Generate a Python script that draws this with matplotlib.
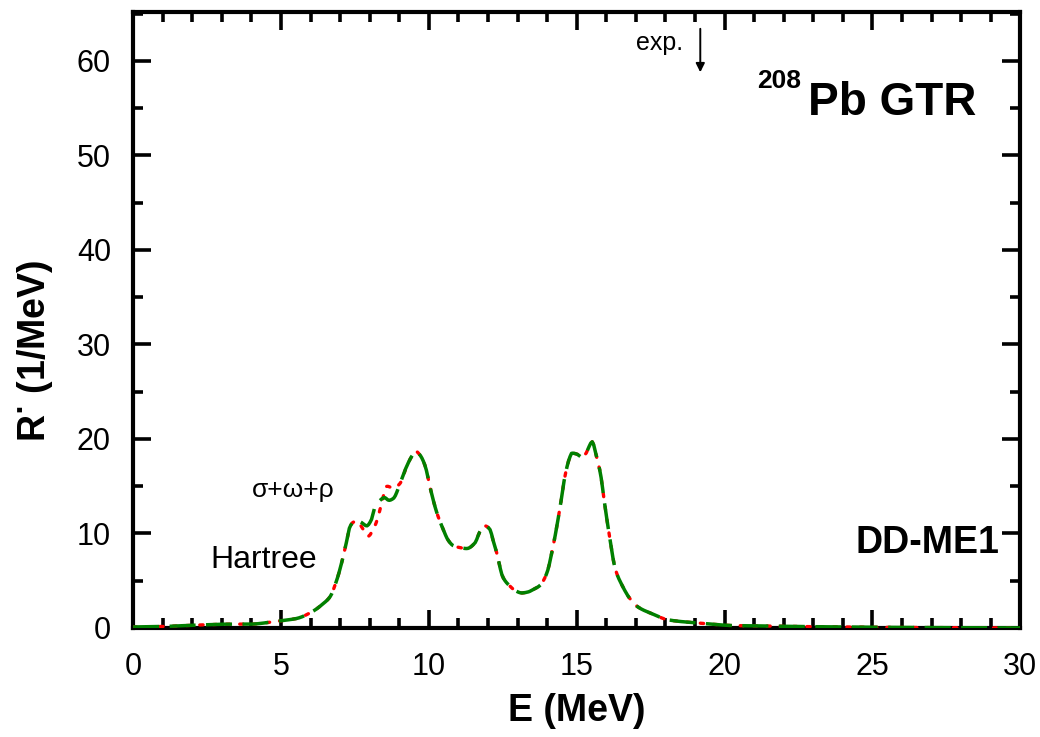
import numpy as np
import matplotlib
matplotlib.use("Agg")
import matplotlib.pyplot as plt
from matplotlib.ticker import MultipleLocator

plt.rcParams['font.family'] = ['Liberation Sans', 'DejaVu Sans']

# Hartree, sigma+omega+rho (green dashed)
e_green = [0.0, 1.0, 2.15, 3.28, 3.96, 4.63, 5.1, 5.53, 6.1, 6.4, 6.66, 6.89, 7.1,
           7.23, 7.33, 7.45, 7.56, 7.7, 7.9, 8.05, 8.18, 8.35, 8.5, 8.65, 8.8, 9.03,
           9.25, 9.45, 9.55, 9.7, 9.88, 10.04, 10.27, 10.49, 10.65, 10.83, 11.05, 11.28,
           11.56, 11.73, 11.9, 12.07, 12.17, 12.3, 12.5, 12.75, 12.95, 13.14, 13.35,
           13.55, 13.76, 13.99, 14.2, 14.44, 14.6, 14.75, 14.84, 15.0, 15.17, 15.3,
           15.42, 15.52, 15.68, 15.8, 15.96, 16.13, 16.3, 16.57, 16.8, 17.08, 17.55,
           18.1, 19.2, 20.3, 21.5, 22.5, 24.0, 26.0, 30.0]
r_green = [0.1, 0.15, 0.3, 0.4, 0.4, 0.6, 0.8, 1.0, 1.8, 2.5, 3.3, 5.1, 7.5,
           9.3, 10.7, 11.2, 11.4, 11.2, 10.8, 11.4, 12.8, 13.5, 13.8, 13.5, 13.7, 15.3,
           17.1, 18.3, 18.7, 18.3, 17.1, 14.9, 12.2, 10.4, 9.3, 8.7, 8.5, 8.4,
           9.0, 10.2, 10.8, 10.4, 9.3, 7.9, 5.4, 4.4, 3.9, 3.7, 3.8,
           4.1, 4.5, 5.8, 8.6, 12.8, 16.0, 17.9, 18.5, 18.4, 18.1, 18.4,
           19.2, 19.7, 18.0, 16.4, 12.8, 9.3, 6.3, 4.3, 3.1, 2.2, 1.5,
           0.85, 0.5, 0.25, 0.2, 0.15, 0.1, 0.05, 0.0]

# Hartree, sigma+omega+rho (red dotted)
e_red = [0.0, 1.0, 2.15, 3.28, 3.96, 4.63, 5.1, 5.53, 6.1, 6.4, 6.66, 6.89, 7.1,
         7.23, 7.33, 7.45, 7.56, 7.75, 7.95, 8.1, 8.25, 8.42, 8.58, 8.8, 9.03,
         9.25, 9.45, 9.55, 9.7, 9.88, 10.04, 10.27, 10.49, 10.65, 10.83, 11.05, 11.28,
         11.56, 11.73, 11.9, 12.07, 12.17, 12.3, 12.5, 12.75, 12.95, 13.14, 13.35,
         13.55, 13.76, 13.99, 14.2, 14.44, 14.6, 14.75, 14.84, 15.0, 15.17, 15.3,
         15.42, 15.52, 15.68, 15.8, 15.96, 16.13, 16.3, 16.57, 16.8, 17.08, 17.55,
         18.1, 19.2, 20.3, 21.5, 22.5, 24.0, 26.0, 30.0]
r_red = [0.1, 0.15, 0.3, 0.4, 0.4, 0.6, 0.8, 1.0, 1.8, 2.5, 3.3, 5.1, 7.5,
         9.3, 10.7, 11.2, 11.3, 10.6, 9.7, 10.3, 11.4, 13.4, 15.0, 14.8, 15.3,
         17.1, 18.3, 18.7, 18.3, 17.1, 14.9, 12.2, 10.4, 9.3, 8.7, 8.5, 8.4,
         9.0, 10.2, 10.8, 10.4, 9.3, 7.9, 5.4, 4.4, 3.9, 3.7, 3.8,
         4.1, 4.5, 5.8, 8.6, 12.8, 16.0, 17.9, 18.5, 18.4, 18.1, 18.4,
         19.2, 19.7, 18.0, 16.4, 12.8, 9.3, 6.3, 4.3, 3.1, 2.2, 1.5,
         0.85, 0.5, 0.25, 0.2, 0.15, 0.1, 0.05, 0.0]

def smooth(x, y, n=600):
    """Monotone cubic (PCHIP-style) resampling of a tabulated curve."""
    x = np.asarray(x, float)
    y = np.asarray(y, float)
    h = np.diff(x)
    d = np.diff(y) / h
    m = np.zeros_like(y)
    for k in range(1, len(x) - 1):
        if d[k - 1] * d[k] > 0:
            w1 = 2 * h[k] + h[k - 1]
            w2 = h[k] + 2 * h[k - 1]
            m[k] = (w1 + w2) / (w1 / d[k - 1] + w2 / d[k])
    m[0], m[-1] = d[0], d[-1]
    xs = np.linspace(x[0], x[-1], n)
    idx = np.clip(np.searchsorted(x, xs) - 1, 0, len(x) - 2)
    t = (xs - x[idx]) / h[idx]
    h00 = 2 * t**3 - 3 * t**2 + 1
    h10 = t**3 - 2 * t**2 + t
    h01 = -2 * t**3 + 3 * t**2
    h11 = t**3 - t**2
    ys = (h00 * y[idx] + h10 * h[idx] * m[idx] + h01 * y[idx + 1]
          + h11 * h[idx] * m[idx + 1])
    return xs, ys

fig = plt.figure(figsize=(10.40, 7.37), dpi=100)
ax = fig.add_axes([0.128, 0.148, 0.853, 0.836])

xr, yr = smooth(e_red, r_red)
xg, yg = smooth(e_green, r_green)
ax.plot(xr, yr, color='red', lw=2.4, linestyle=(0, (1, 3)),
        dash_capstyle='round', zorder=3)
ax.plot(xg, yg, color='#008000', lw=2.5, linestyle=(0, (7.5, 3)), zorder=4)

ax.set_xlim(0, 30)
ax.set_ylim(0, 65.2)
ax.xaxis.set_major_locator(MultipleLocator(5))
ax.xaxis.set_minor_locator(MultipleLocator(1))
ax.yaxis.set_major_locator(MultipleLocator(10))
ax.yaxis.set_minor_locator(MultipleLocator(5))
ax.tick_params(which='both', direction='in', top=True, right=True, width=2.6)
ax.tick_params(which='major', length=13, labelsize=22)
ax.tick_params(axis='y', which='major', pad=16)
ax.tick_params(axis='x', which='major', pad=17)
ax.tick_params(which='minor', length=7)
for s in ax.spines.values():
    s.set_linewidth(3)

ax.set_xlabel('E (MeV)', fontsize=27, fontweight='bold')
ax.set_ylabel('R$^{\\mathbf{\\cdot}}$ (1/MeV)', fontsize=27, fontweight='bold')
ax.xaxis.set_label_coords(0.5, -0.105)
ax.yaxis.set_label_coords(-0.088, 0.45)

ax.text(17.8, 61.9, 'exp.', fontsize=18, ha='center', va='center')
ax.annotate('', xy=(19.18, 58.8), xytext=(19.18, 63.4),
            arrowprops=dict(arrowstyle='-|>', color='black', lw=1.4,
                            mutation_scale=13, shrinkA=0, shrinkB=0))
ax.text(28.5, 54.3, 'Pb GTR', fontsize=33, fontweight='bold',
        ha='right', va='baseline')
ax.text(22.6, 57.1, '208', fontsize=19, fontweight='bold',
        ha='right', va='baseline')
ax.text(29.3, 9.0, 'DD-ME1', fontsize=27, fontweight='bold', ha='right', va='center')
ax.text(2.6, 7.2, 'Hartree', fontsize=23, ha='left', va='center')
ax.text(4.0, 14.6, 'σ+ω+ρ', fontsize=19, ha='left', va='center')

fig.savefig('out.png', dpi=100)
